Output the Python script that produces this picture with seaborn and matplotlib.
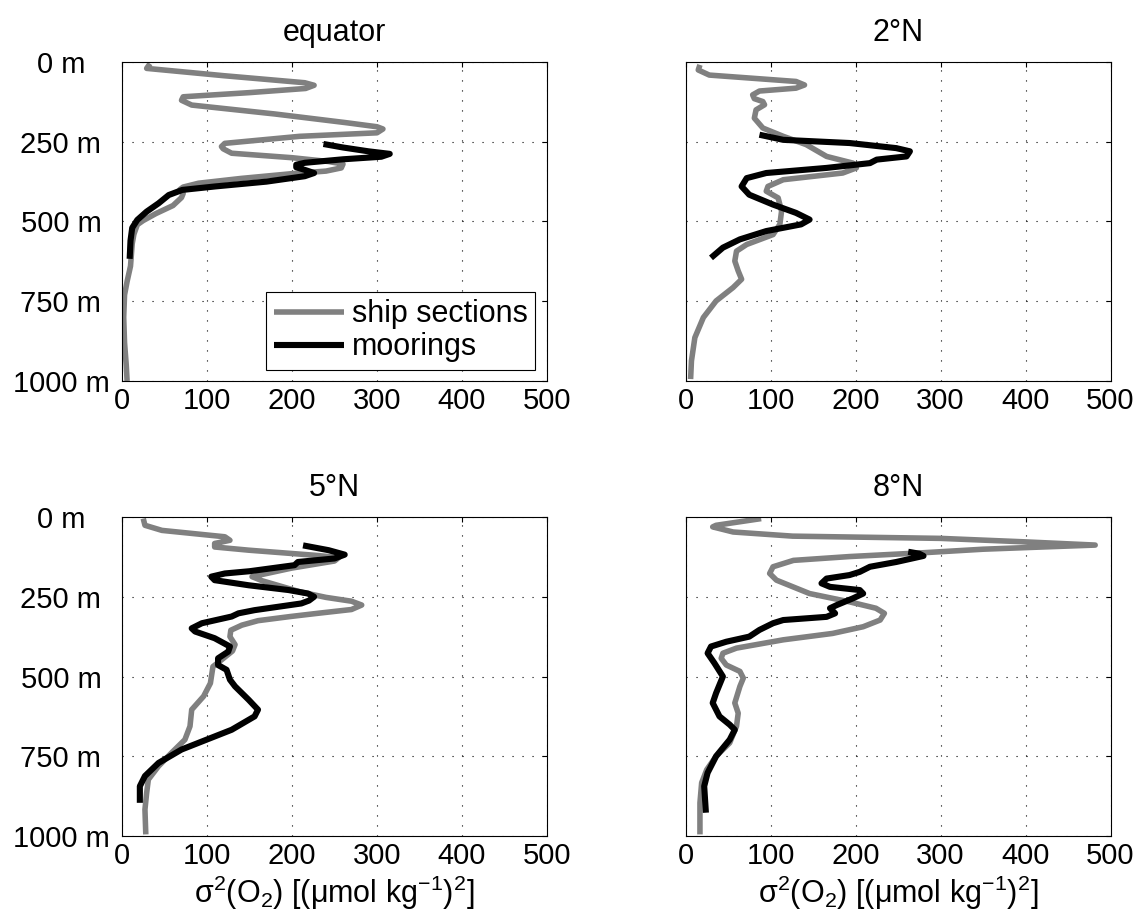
import numpy as np
import pandas as pd
import matplotlib
matplotlib.use("Agg")
import matplotlib.pyplot as plt
import seaborn as sns

# ---- oxygen variance profiles: (variance, depth) pairs ----
titles = ["equator", "2°N", "5°N", "8°N"]

eq_ship_var = [33, 29, 120, 215, 226, 216, 150, 72, 70, 82, 180, 263, 300, 307, 300,
               209, 121, 117, 119, 129, 200, 243, 260, 258, 240, 200, 140, 90, 72,
               68, 72, 70, 60, 40, 25, 18, 14, 12, 10, 6, 3, 2, 3, 5, 6]
eq_ship_dep = [5, 20, 43, 65, 73, 83, 96, 109, 120, 135, 163, 190, 203, 210, 222,
               233, 255, 265, 272, 286, 300, 312, 320, 332, 342, 350, 365, 380, 392,
               400, 412, 425, 450, 475, 497, 510, 540, 570, 640, 688, 730, 800, 880, 950, 1000]
eq_moor_var = [237, 260, 290, 315, 305, 260, 215, 205, 205, 216, 226, 215, 170, 110,
               71, 55, 43, 29, 18, 12, 10, 9]
eq_moor_dep = [257, 268, 280, 288, 297, 305, 316, 322, 330, 339, 348, 358, 375, 390,
               401, 417, 443, 469, 495, 520, 560, 617]

n2_ship_var = [17, 15, 28, 130, 140, 130, 87, 79, 81, 91, 93, 83, 81, 91, 115, 142,
               166, 197, 201, 185, 115, 97, 95, 109, 113, 111, 103, 72, 60, 58, 62,
               66, 56, 36, 21, 11, 7, 6]
n2_ship_dep = [9, 25, 41, 61, 72, 82, 91, 103, 115, 124, 134, 150, 176, 207, 233, 259,
               296, 317, 332, 348, 369, 390, 405, 426, 468, 509, 541, 572, 593, 624, 655,
               681, 707, 749, 801, 864, 937, 994]
n2_moor_var = [87, 115, 193, 248, 264, 260, 225, 217, 166, 95, 72, 66, 75, 103, 130,
               146, 136, 95, 64, 44, 30]
n2_moor_dep = [228, 244, 254, 270, 280, 296, 306, 317, 332, 348, 364, 390, 416, 447,
               473, 494, 509, 530, 556, 582, 614]

n5_ship_var = [25, 27, 47, 121, 127, 109, 109, 149, 227, 255, 250, 200, 153, 165, 210,
               240, 270, 282, 270, 230, 198, 160, 141, 128, 127, 133, 130, 117, 107, 104,
               96, 82, 80, 74, 58, 43, 31, 29, 27, 28]
n5_ship_dep = [5, 26, 42, 62, 73, 83, 94, 104, 120, 127, 138, 160, 187, 200, 235,
               252, 264, 276, 290, 302, 312, 325, 339, 355, 375, 400, 420, 448, 469, 521,
               562, 604, 656, 698, 740, 781, 823, 865, 917, 995]
n5_moor_var = [213, 243, 262, 250, 207, 203, 150, 121, 105, 109, 149, 196, 219, 226,
               220, 211, 156, 137, 129, 94, 82, 86, 109, 127, 125, 113, 113, 123, 127,
               133, 149, 160, 156, 129, 109, 70, 43, 27, 21, 21]
n5_moor_dep = [89, 104, 118, 130, 141, 151, 170, 177, 187, 198, 214, 229, 240, 250,
               262, 271, 292, 302, 312, 333, 349, 359, 380, 406, 422, 443, 464, 479, 510,
               531, 573, 604, 625, 667, 688, 729, 771, 812, 844, 896]

n8_ship_var = [89, 36, 32, 56, 126, 200, 300, 400, 482, 400, 350, 280, 193, 127, 103,
               99, 107, 146, 193, 224, 234, 229, 209, 173, 115, 60, 44, 42, 48, 64, 68,
               64, 58, 62, 60, 52, 36, 25, 19, 17, 17]
n8_ship_dep = [5, 26, 31, 47, 60, 63, 67, 78, 88, 96, 101, 112, 124, 136, 156,
               177, 198, 240, 266, 286, 302, 323, 344, 365, 385, 411, 427, 443, 464, 484, 505,
               531, 583, 615, 656, 708, 750, 792, 833, 896, 995]
n8_moor_var = [262, 275, 280, 248, 217, 205, 193, 166, 160, 170, 205, 209, 197, 178,
               170, 176, 166, 115, 103, 87, 75, 48, 30, 26, 34, 44, 36, 32, 40, 52, 58,
               52, 36, 26, 22, 24]
n8_moor_dep = [109, 115, 122, 141, 156, 172, 182, 193, 208, 219, 229, 240, 255, 276,
               286, 302, 313, 323, 333, 354, 375, 391, 406, 427, 458, 500, 552, 583, 625,
               651, 667, 698, 750, 802, 844, 927]

x_ticks = [0, 100, 200, 300, 400, 500]
y_ticks = [0, 250, 500, 750, 1000]
y_tick_labels = ["0 m", "250 m", "500 m", "750 m", "1000 m"]

panels = [
    (eq_ship_var, eq_ship_dep, eq_moor_var, eq_moor_dep),
    (n2_ship_var, n2_ship_dep, n2_moor_var, n2_moor_dep),
    (n5_ship_var, n5_ship_dep, n5_moor_var, n5_moor_dep),
    (n8_ship_var, n8_ship_dep, n8_moor_var, n8_moor_dep),
]

sns.set_style("white")
plt.rcParams["font.family"] = ["Liberation Sans", "DejaVu Sans"]
plt.rcParams["mathtext.fontset"] = "custom"
plt.rcParams["mathtext.rm"] = "Liberation Sans"
plt.rcParams["mathtext.default"] = "regular"
plt.rcParams["text.color"] = "black"
plt.rcParams["axes.labelcolor"] = "black"
plt.rcParams["xtick.color"] = "black"
plt.rcParams["ytick.color"] = "black"

FS = 22       # titles, legend, axis label
FS_TICK = 21  # tick labels
fig = plt.figure(figsize=(11.48, 9.23), dpi=100)
W, H = 1148, 923
boxes = [(122, 62), (685.5, 62), (122, 517), (685.5, 517)]
aw, ah = 425, 319

ship_color = "#808080"
moor_color = "#000000"

for i, (sv, sd, mv, md) in enumerate(panels):
    x0, y0 = boxes[i]
    ax = fig.add_axes([x0 / W, 1 - (y0 + ah) / H, aw / W, ah / H])
    ship = pd.DataFrame({"var": sv, "depth": sd})
    moor = pd.DataFrame({"var": mv, "depth": md})
    sns.lineplot(data=ship, x="var", y="depth", sort=False, estimator=None,
                 color=ship_color, lw=4.0, ax=ax, label="ship sections",
                 legend=False, solid_joinstyle="round", solid_capstyle="butt")
    sns.lineplot(data=moor, x="var", y="depth", sort=False, estimator=None,
                 color=moor_color, lw=4.4, ax=ax, label="moorings",
                 legend=False, solid_joinstyle="round", solid_capstyle="butt")

    ax.set_xlim(0, 500)
    ax.set_ylim(1000, 0)
    ax.set_xticks(x_ticks)
    ax.set_yticks(y_ticks)
    ax.set_xticklabels([str(t) for t in x_ticks], fontsize=FS_TICK)
    if i % 2 == 0:
        ax.set_yticklabels(y_tick_labels, fontsize=FS_TICK)
        for lab in ax.get_yticklabels():
            lab.set_horizontalalignment("center")
    else:
        ax.set_yticklabels([])
    ax.tick_params(axis="both", direction="in", length=3.5, width=0.8,
                   top=True, right=True, colors="black")
    ax.tick_params(axis="x", pad=4)
    ax.tick_params(axis="y", pad=44)
    ax.grid(True, color="black", linestyle=(0, (1, 8)), linewidth=0.8)
    for s in ax.spines.values():
        s.set_color("black")
        s.set_linewidth(0.8)
    ax.set_xlabel("")
    ax.set_ylabel("")
    ax.set_title(titles[i], fontsize=FS, pad=15, color="black")

    if i >= 2:
        ax.set_xlabel("σ$^2$(O$_2$) [(μmol kg$^{-1}$)$^2$]", fontsize=FS,
                      labelpad=3, color="black")

    if i == 0:
        leg = ax.legend(loc="lower right", bbox_to_anchor=(0.972, 0.0345),
                        borderaxespad=0, fontsize=FS, frameon=True, fancybox=False,
                        edgecolor="black", framealpha=1, handlelength=2.3,
                        handletextpad=0.25, borderpad=0.25, labelspacing=0.1)
        leg.get_frame().set_linewidth(0.8)
        for t in leg.get_texts():
            t.set_color("black")

fig.savefig("out.png", dpi=100)
